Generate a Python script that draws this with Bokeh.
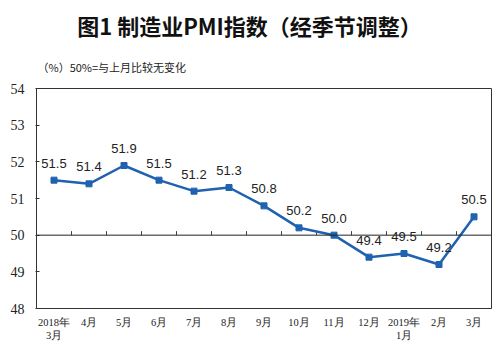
from bokeh.plotting import figure
from bokeh.layouts import column
from bokeh.models import Span, ColumnDataSource, FixedTicker, Range1d
from bokeh.core.properties import value
from bokeh.embed import file_html
from bokeh.resources import INLINE

categories = ["2018年\n3月", "4月", "5月", "6月", "7月", "8月", "9月", "10月",
              "11月", "12月", "2019年\n1月", "2月", "3月"]
pmi = [51.5, 51.4, 51.9, 51.5, 51.2, 51.3, 50.8, 50.2, 50.0, 49.4, 49.5, 49.2, 50.5]
y_ticks = [48, 49, 50, 51, 52, 53, 54]
title_text = "图1 制造业PMI指数（经季节调整）"
subtitle_text = "（%）50%=与上月比较无变化"

n = len(categories)
xs = list(range(n))
labels = [f"{v:.1f}" for v in pmi]

# ---- heading strip (title + unit note); its frame is aligned with the chart frame ----
W, HEAD_H = 498, 80
FRAME_L, FRAME_R = 36, 491
head = figure(width=W, height=HEAD_H, output_backend="svg", toolbar_location=None,
              x_axis_location=None, y_axis_location=None,
              x_range=Range1d(FRAME_L, FRAME_R), y_range=Range1d(0, HEAD_H),
              min_border=0, min_border_left=FRAME_L, min_border_right=W - FRAME_R,
              min_border_top=0, min_border_bottom=0)
head.title = None
head.grid.visible = False
head.outline_line_color = None
head.text(x=[W / 2], y=[HEAD_H - 24], text=[title_text], text_align="center",
          text_baseline="middle", text_font=value("Noto Sans CJK SC"),
          text_font_size="22px", text_font_style="bold", text_color="#111111")
head.text(x=[FRAME_L + 1], y=[HEAD_H - 66], text=[subtitle_text], text_align="left",
          text_baseline="middle", text_font=value("Noto Sans CJK SC"),
          text_font_size="11px", text_color="#222222")

# ---- main chart ----
p = figure(width=W, height=275, output_backend="svg", toolbar_location=None,
           x_range=Range1d(-0.5, n - 0.5), y_range=Range1d(48, 54),
           min_border_left=FRAME_L, min_border_right=W - FRAME_R,
           min_border_top=8, min_border_bottom=47)
p.title = None
p.grid.visible = False
p.outline_line_color = "#333333"
p.outline_line_width = 1
p.background_fill_color = "white"
p.border_fill_color = "white"

# y axis
p.yaxis.ticker = FixedTicker(ticks=y_ticks)
p.yaxis.axis_line_color = None
p.yaxis.major_tick_in = 3
p.yaxis.major_tick_out = 1
p.yaxis.minor_tick_line_color = None
p.yaxis.minor_tick_in = 0
p.yaxis.minor_tick_out = 0
p.yaxis.major_tick_line_color = "#333333"
p.yaxis.major_label_text_font = "Liberation Serif"
p.yaxis.major_label_text_font_size = "14px"
p.yaxis.major_label_text_color = "#222222"
p.yaxis.major_label_standoff = 11

# x axis
p.xaxis.ticker = FixedTicker(ticks=xs)
p.xaxis.major_label_overrides = {i: c for i, c in enumerate(categories)}
p.xaxis.axis_line_color = None
p.xaxis.major_tick_line_color = None
p.xaxis.major_tick_in = 0
p.xaxis.major_tick_out = 0
p.xaxis.minor_tick_line_color = None
p.xaxis.minor_tick_in = 0
p.xaxis.minor_tick_out = 0
p.xaxis.major_label_text_font = "Liberation Serif"
p.xaxis.major_label_text_font_size = "10.5px"
p.xaxis.major_label_text_color = "#222222"
p.xaxis.major_label_standoff = 8

# 50 reference line with category boundary ticks
p.add_layout(Span(location=50, dimension="width", line_color="#222222", line_width=1))
bx = [i + 0.5 for i in range(n - 1)]
p.segment(x0=bx, y0=[50] * len(bx), x1=bx, y1=[50.11] * len(bx),
          line_color="#444444", line_width=1)

src = ColumnDataSource(dict(x=xs, y=pmi, label=labels))
p.line("x", "y", source=src, line_color="#1f62b0", line_width=2.5)
p.scatter("x", "y", source=src, marker="square", size=6, fill_color="#1f62b0",
          line_color="#1f62b0")
p.text("x", "y", text="label", source=src, text_align="center", text_baseline="middle",
       y_offset=-17, text_font=value("Liberation Sans"), text_font_size="13px",
       text_color="#222222")

layout = column(head, p, spacing=0)
open("out.html", "w").write(file_html(layout, INLINE))
